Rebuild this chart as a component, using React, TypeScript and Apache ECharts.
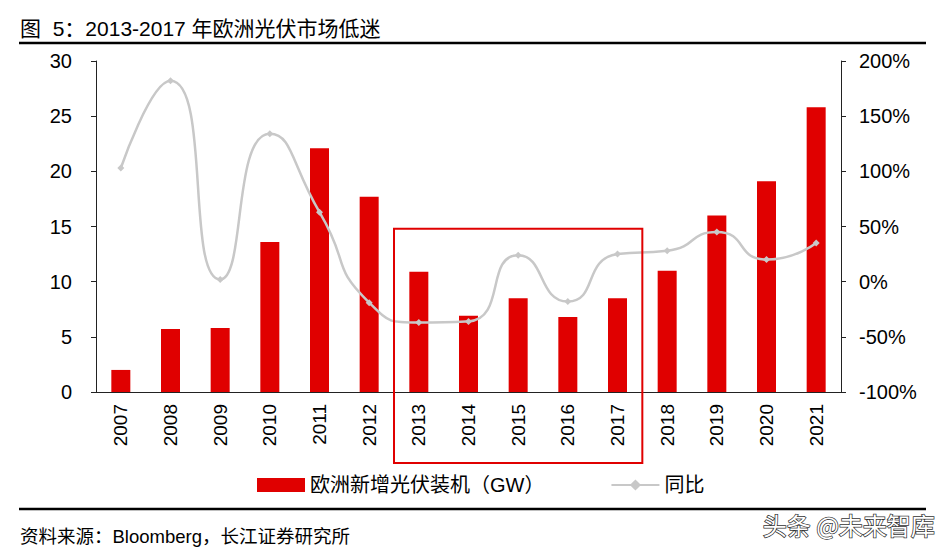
import React, { useEffect, useRef } from "react";
import * as echarts from "echarts";

const years = ["2007","2008","2009","2010","2011","2012","2013","2014","2015","2016","2017","2018","2019","2020","2021"];
const installGW = [2.0, 5.7, 5.8, 13.6, 22.1, 17.7, 10.9, 6.9, 8.5, 6.8, 8.5, 11.0, 16.0, 19.1, 25.8];
const yoyPct = [103, 182, 2, 134, 63, -19, -37, -36, 24, -18, 25, 28, 45, 20, 35];
const leftTicks = { min: 0, max: 30, interval: 5 };
const rightTicks = { min: -100, max: 200, interval: 50 };
const highlightStart = "2013";
const highlightEnd = "2017";
const highlightTopValue = 14.8;

const FONT = "'Liberation Sans', Arial, 'Noto Sans CJK SC', sans-serif";

export default function App() {
  const ref = useRef<HTMLDivElement>(null);
  useEffect(() => {
    if (!ref.current) return;
    document.body.style.margin = "0";
    const chart = echarts.init(ref.current, null, { renderer: "svg" });
    const option: any = {
      animation: false,
      textStyle: { fontFamily: FONT },
      grid: { left: 96, right: 109, top: 61, bottom: 168 },
      legend: {
        left: 252,
        top: 470,
        itemGap: 66,
        itemWidth: 48,
        textStyle: { fontSize: 20, color: "#000", fontFamily: FONT },
        data: [
          { name: "欧洲新增光伏装机（GW）", icon: "rect" },
          { name: "同比" },
        ],
      },
      xAxis: {
        type: "category",
        data: years,
        axisLine: { lineStyle: { color: "#222", width: 1 } },
        axisTick: { inside: true, length: 5, lineStyle: { color: "#222" } },
        axisLabel: { rotate: 90, fontSize: 19, color: "#000", margin: 12, fontFamily: FONT },
      },
      yAxis: [
        {
          type: "value",
          min: leftTicks.min,
          max: leftTicks.max,
          interval: leftTicks.interval,
          axisLine: { show: true, lineStyle: { color: "#222" } },
          axisTick: { show: true, length: 5, lineStyle: { color: "#222" } },
          splitLine: { show: false },
          axisLabel: { fontSize: 20, color: "#000", margin: 24, fontFamily: FONT },
        },
        {
          type: "value",
          min: rightTicks.min,
          max: rightTicks.max,
          interval: rightTicks.interval,
          position: "right",
          axisLine: { show: true, lineStyle: { color: "#222" } },
          axisTick: { show: true, length: 5, lineStyle: { color: "#222" } },
          splitLine: { show: false },
          axisLabel: { fontSize: 20, color: "#000", margin: 18, formatter: "{value}%", fontFamily: FONT },
        },
      ],
      series: [
        {
          name: "欧洲新增光伏装机（GW）",
          type: "bar",
          data: installGW,
          barWidth: 19,
          itemStyle: { color: "#e00000" },
        },
        {
          name: "同比",
          type: "line",
          yAxisIndex: 1,
          data: yoyPct,
          smooth: 0.6,
          symbol: "diamond",
          symbolSize: 7,
          lineStyle: { color: "#c8c8c8", width: 2.5 },
          itemStyle: { color: "#c8c8c8" },
        },
      ],
    };
    chart.setOption(option);

    const i0 = years.indexOf(highlightStart);
    const i1 = years.indexOf(highlightEnd);
    const xa = chart.convertToPixel({ xAxisIndex: 0 }, years[i0]) as number;
    const xb = chart.convertToPixel({ xAxisIndex: 0 }, years[i1]) as number;
    const step = (chart.convertToPixel({ xAxisIndex: 0 }, years[1]) as number) - (chart.convertToPixel({ xAxisIndex: 0 }, years[0]) as number);
    const x0 = xa - step / 2;
    const x1 = xb + step / 2;
    const yTop = chart.convertToPixel({ yAxisIndex: 0 }, highlightTopValue) as number;
    const yBottom = 463;

    chart.setOption({
      graphic: [
        {
          type: "text",
          left: 20,
          top: 18,
          style: { text: "图  5：2013-2017 年欧洲光伏市场低迷", font: `21px ${FONT}`, fill: "#000" },
        },
        { type: "line", shape: { x1: 19, y1: 43, x2: 926, y2: 43 }, style: { stroke: "#000", lineWidth: 2.5 } },
        { type: "line", shape: { x1: 19, y1: 509, x2: 926, y2: 509 }, style: { stroke: "#000", lineWidth: 2.5 } },
        {
          type: "text",
          left: 20,
          top: 527,
          style: { text: "资料来源：Bloomberg，长江证券研究所", font: `18.5px ${FONT}`, fill: "#000" },
        },
        {
          type: "rect",
          shape: { x: x0, y: yTop, width: x1 - x0, height: yBottom - yTop },
          style: { fill: "none", stroke: "#e00000", lineWidth: 2 },
          z: 100,
        },
        {
          type: "text",
          left: 762,
          top: 512,
          style: {
            text: "头条 @未来智库",
            font: `24px 'Noto Sans CJK SC', sans-serif`,
            fill: "#fff",
            stroke: "#333",
            lineWidth: 1.5,
          },
          z: 110,
        },
      ],
    });

    return () => chart.dispose();
  }, []);
  return <div ref={ref} style={{ width: 950, height: 560 }} />;
}
